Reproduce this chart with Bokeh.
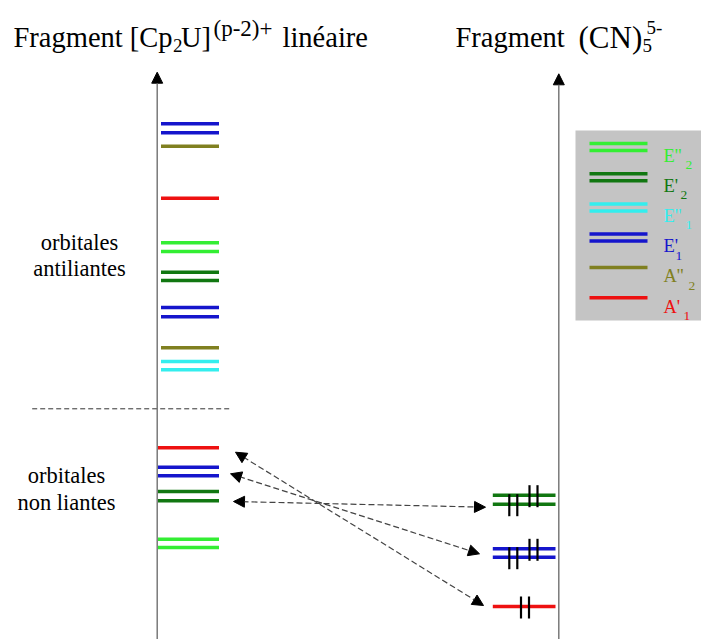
from bokeh.plotting import figure
from bokeh.models import Range1d, Arrow, NormalHead, ColumnDataSource
from bokeh.core.properties import value
from bokeh.embed import file_html
from bokeh.resources import INLINE

# ---------------- data ----------------
# symmetry colours
sym_colors = {"E''2": "#33ee33", "E'2": "#117711", "E''1": "#33eeee",
              "E'1": "#1515cc", "A''2": "#808020", "A'1": "#ee1111"}

# energy levels of fragment [Cp2U](p-2)+ (arbitrary energy units, up = higher)
left_sym = ["E'1", "E'1", "A''2", "A'1", "E''2", "E''2", "E'2", "E'2", "E'1", "E'1",
            "A''2", "E''1", "E''1",
            "A'1", "E'1", "E'1", "E'2", "E'2", "E''2", "E''2"]
left_energy = [515.7, 506.7, 493.3, 441.3, 396.7, 388.0, 367.3, 359.0, 332.0, 322.7,
               291.7, 278.0, 269.7,
               191.7, 172.3, 163.7, 148.0, 138.7, 100.3, 92.0]
left_kind = ["anti"] * 13 + ["nonl"] * 7

# energy levels of fragment (CN)5 5-
right_sym = ["E'2", "E'2", "E'1", "E'1", "A'1"]
right_energy = [144.3, 135.3, 90.7, 82.3, 33.0]

# electron pairs (x position of pair centre, level energy)
elec_x = [512.8, 533.0, 512.8, 533.0, 524.5]
elec_energy = [135.3, 144.3, 82.3, 90.7, 33.0]

# interaction arrows (left end -> right end)
arrow_x0 = [235, 230, 233]
arrow_e0 = [187.3, 165.7, 138.0]
arrow_x1 = [483, 479, 485]
arrow_e1 = [34.0, 85.7, 132.3]

# legend
legend_sym = ["E''2", "E'2", "E''1", "E'1", "A''2", "A'1"]
legend_main = ["E''", "E'", "E''", "E'", "A''", "A'"]
legend_sub = ["2", "2", "1", "1", "2", "1"]
legend_double = [True, True, True, True, False, False]

# ---------------- figure ----------------
H = 639
p = figure(width=701, height=639, x_range=Range1d(0, 701), y_range=Range1d(0, 639),
           output_backend="svg", toolbar_location=None, min_border=0,
           x_axis_type=None, y_axis_type=None)
p.grid.visible = False
p.outline_line_color = None
p.background_fill_color = "white"
p.border_fill_color = "white"

SERIF = value("Liberation Serif")

# axes (vertical energy arrows)
AX_L, AX_R = 156.7, 558.3
for ax, tip in ((AX_L, H - 71.7), (AX_R, H - 73.3)):
    p.add_layout(Arrow(x_start=ax, y_start=0, x_end=ax, y_end=tip,
                       line_color="#707070", line_width=1.4,
                       end=NormalHead(size=11, fill_color="black", line_color="black", line_width=1)))

# left levels
lx0 = [160.5 if k == "anti" else 157.5 for k in left_kind]
lx1 = [218.5] * len(left_kind)
src_l = ColumnDataSource(dict(x0=lx0, x1=lx1, y=left_energy,
                              c=[sym_colors[s] for s in left_sym]))
p.segment("x0", "y", "x1", "y", source=src_l, line_color="c", line_width=3.5)

# right levels
src_r = ColumnDataSource(dict(x0=[492.3] * len(right_sym), x1=[555.0] * len(right_sym),
                              y=right_energy, c=[sym_colors[s] for s in right_sym]))
p.segment("x0", "y", "x1", "y", source=src_r, line_color="c", line_width=3.5)

# electrons: two vertical bars per pair
ex0, ey0, ey1 = [], [], []
for xc, e in zip(elec_x, elec_energy):
    for dx in (-4.0, 4.0):
        ex0.append(xc + dx)
        ey0.append(e - 12)
        ey1.append(e + 10)
p.segment(ex0, ey0, ex0, ey1, line_color="black", line_width=2.2)

# separator
p.segment([31.7], [H - 408.3], [230], [H - 408.3], line_color="#333333",
          line_width=1, line_dash="5 3")

# interaction arrows
for x0, e0, x1, e1 in zip(arrow_x0, arrow_e0, arrow_x1, arrow_e1):
    p.add_layout(Arrow(x_start=x0, y_start=e0, x_end=x1, y_end=e1,
                       line_color="#444444", line_width=1.2, line_dash="6 3",
                       start=NormalHead(size=11, fill_color="black", line_color="black", line_width=1),
                       end=NormalHead(size=11, fill_color="black", line_color="black", line_width=1)))

# legend box
p.quad(left=[575], right=[701], bottom=[H - 320], top=[H - 130],
       fill_color="#c4c4c4", line_color=None)
legend_sub_x = [685, 680, 685, 675, 688, 683]
for i, s in enumerate(legend_sym):
    ytop = 143.0 + 30.2 * i
    c = sym_colors[s]
    if legend_double[i]:
        ys = [H - ytop, H - (ytop + 7)]
    else:
        ys = [H - (ytop + 3.2)]
    p.segment([589] * len(ys), ys, [647] * len(ys), ys, line_color=c, line_width=3.5)
    p.text([663], [H - (ytop + 12)], text=[legend_main[i]], text_color=c,
           text_font=SERIF, text_font_size=value("18.5px"), text_baseline="alphabetic")
    p.text([legend_sub_x[i]], [H - (ytop + 21.5)], text=[legend_sub[i]],
           text_color=c, text_font=SERIF, text_font_size=value("13.5px"),
           text_baseline="alphabetic")

# side labels
p.text([79, 79], [H - 241.7, H - 268.3], text=["orbitales", "antiliantes"],
       text_font=SERIF, text_font_size=value("22.5px"), text_align="center",
       text_baseline="alphabetic", text_color="black")
p.text([66, 66], [H - 475, H - 501.7], text=["orbitales", "non liantes"],
       text_font=SERIF, text_font_size=value("22.5px"), text_align="center",
       text_baseline="alphabetic", text_color="black")

# titles
BIG, SUP, SUB = value("28.5px"), value("23px"), value("19px")
base = H - 36.7
AB = "alphabetic"
p.text([13, 180.5, 282], [base, base, base], text=["Fragment [Cp", "U]", "linéaire"],
       text_font=SERIF, text_font_size=BIG, text_color="black", text_baseline=AB)
p.text([172.5], [H - 45], text=["2"], text_font=SERIF, text_font_size=SUB,
       text_color="black", text_baseline=AB)
p.text([213], [H - 28], text=["(p-2)+"], text_font=SERIF, text_font_size=SUP,
       text_color="black", text_baseline=AB)
p.text([455], [base], text=["Fragment"], text_font=SERIF, text_font_size=BIG,
       text_color="black", text_baseline=AB)
p.text([578], [base], text=["(CN)"], text_font=SERIF, text_font_size=value("31px"),
       text_color="black", text_baseline=AB)
p.text([642], [H - 45], text=["5"], text_font=SERIF, text_font_size=SUB,
       text_color="black", text_baseline=AB)
p.text([646], [H - 27], text=["5-"], text_font=SERIF, text_font_size=SUB,
       text_color="black", text_baseline=AB)

open("out.html", "w").write(file_html(p, INLINE))
